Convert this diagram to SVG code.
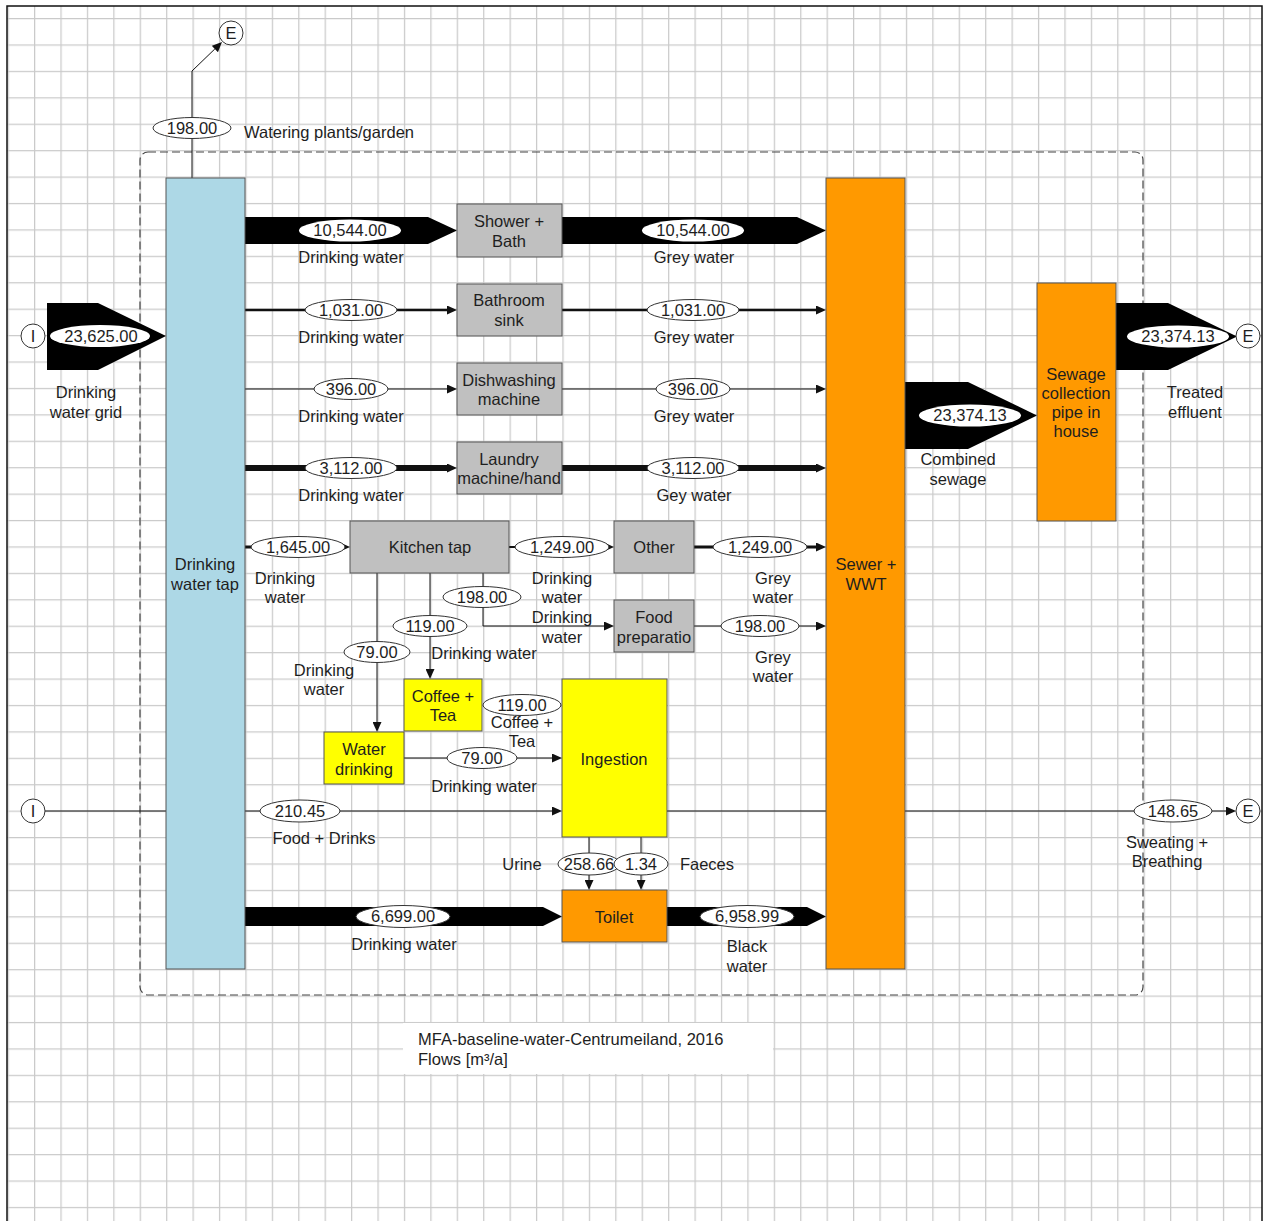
<svg xmlns="http://www.w3.org/2000/svg" width="1265" height="1221" viewBox="0 0 1265 1221">
<style>
.t{font-family:"Liberation Sans",Arial,sans-serif;font-size:16.5px;fill:#1e1e1e;text-anchor:middle}
.s{text-anchor:start}
.ln{fill:none;stroke:#111;marker-end:url(#ah)}
.band{fill:#000}
.lbl{fill:#fff;stroke:#333;stroke-width:1}
.gray{fill:#c0c0c0;stroke:#555;stroke-width:1}
.yel{fill:#ffff00;stroke:#555;stroke-width:1}
.org{fill:#ff9900;stroke:#555;stroke-width:1}
.blu{fill:#add8e6;stroke:#555;stroke-width:1}
.io{fill:#fff;stroke:#333;stroke-width:1}
</style>
<defs>
<pattern id="grid" patternUnits="userSpaceOnUse" x="34" y="18" width="26.42" height="26.42">
<path d="M0.5 0V26.42M0 0.5H26.42" stroke="#cacaca" stroke-width="1.5" fill="none"/>
</pattern>
<marker id="ah" markerUnits="userSpaceOnUse" markerWidth="10" markerHeight="9" refX="0" refY="4.5" orient="auto">
<path d="M0 0L10 4.5L0 9z" fill="#111"/>
</marker>
</defs>
<rect x="0" y="0" width="1265" height="1221" fill="#fff"/>
<rect x="7" y="6" width="1255" height="1220" fill="url(#grid)" stroke="#111" stroke-width="1.5"/>
<rect x="140" y="152" width="1003" height="843" rx="8" fill="none" stroke="#444" stroke-width="1.2" stroke-dasharray="8,4"/>
<g id="caption">
<rect x="403" y="1023" width="370" height="51" fill="#fff"/>
<text class="t s" x="418" y="1045">MFA-baseline-water-Centrumeiland, 2016</text>
<text class="t s" x="418" y="1065">Flows [m³/a]</text>
</g>
<g id="connectors">
<path class="ln" d="M192 178V71L214.8 49" stroke-width="1"/>
<polygon class="band" points="47,303 98,303 166,336 98,370 47,370"/>
<polygon class="band" points="245,217 428,217 457,230.5 428,244 245,244"/>
<polygon class="band" points="562,217 797,217 826,230.5 797,244 562,244"/>
<polygon class="band" points="905,382 968,382 1037,415.5 968,449 905,449"/>
<polygon class="band" points="1116,303 1168,303 1237,336.5 1168,370 1116,370"/>
<polygon class="band" points="245,907 543,907 562,916.5 543,926 245,926"/>
<polygon class="band" points="667,907 807,907 826,916.5 807,926 667,926"/>
<path class="ln" d="M245 310H447" stroke-width="2.5"/>
<path class="ln" d="M562 310H816" stroke-width="2.5"/>
<path class="ln" d="M245 389H447" stroke-width="1"/>
<path class="ln" d="M562 389H816" stroke-width="1"/>
<path class="ln" d="M245 468H447" stroke-width="6"/>
<path class="ln" d="M562 468H816" stroke-width="6"/>
<path class="ln" d="M245 547H340" stroke-width="3"/>
<path class="ln" d="M509 547H604" stroke-width="2"/>
<path class="ln" d="M694 547H816" stroke-width="3"/>
<path class="ln" d="M483 573V626H604" stroke-width="1"/>
<path class="ln" d="M694 626H816" stroke-width="1"/>
<path class="ln" d="M430 573V669" stroke-width="1"/>
<path class="ln" d="M377 573V722" stroke-width="1"/>
<path class="ln" d="M404 758H552" stroke-width="1"/>
<path class="ln" d="M45 811H552" stroke-width="1"/>
<path class="ln" d="M667 811H1226" stroke-width="1"/>
<path class="ln" d="M589 837V880" stroke-width="1"/>
<path class="ln" d="M641 837V880" stroke-width="1"/>
</g>
<g id="n-tap"><rect class="blu" x="166" y="178" width="79" height="791"/><text class="t" x="205" y="570">Drinking</text><text class="t" x="205" y="590">water tap</text></g>
<g id="n-shower"><rect class="gray" x="457" y="204" width="105" height="53"/><text class="t" x="509" y="227">Shower +</text><text class="t" x="509" y="247">Bath</text></g>
<g id="n-sink"><rect class="gray" x="457" y="284" width="105" height="52"/><text class="t" x="509" y="306">Bathroom</text><text class="t" x="509" y="326">sink</text></g>
<g id="n-dish"><rect class="gray" x="457" y="363" width="105" height="52"/><text class="t" x="509" y="386">Dishwashing</text><text class="t" x="509" y="405">machine</text></g>
<g id="n-laundry"><rect class="gray" x="457" y="442" width="105" height="52"/><text class="t" x="509" y="465">Laundry</text><text class="t" x="509" y="484">machine/hand</text></g>
<g id="n-kitchen"><rect class="gray" x="350" y="521" width="159" height="52"/><text class="t" x="430" y="553">Kitchen tap</text></g>
<g id="n-other"><rect class="gray" x="614" y="521" width="80" height="52"/><text class="t" x="654" y="553">Other</text></g>
<g id="n-food"><rect class="gray" x="614" y="600" width="80" height="52"/><text class="t" x="654" y="623">Food</text><text class="t" x="654" y="643">preparatio</text></g>
<g id="n-coffee"><rect class="yel" x="404" y="679" width="78" height="52"/><text class="t" x="443" y="702">Coffee +</text><text class="t" x="443" y="721">Tea</text></g>
<g id="n-water"><rect class="yel" x="324" y="732" width="80" height="52"/><text class="t" x="364" y="755">Water</text><text class="t" x="364" y="775">drinking</text></g>
<g id="n-ingestion"><rect class="yel" x="562" y="679" width="105" height="158"/><text class="t" x="614" y="765">Ingestion</text></g>
<g id="n-toilet"><rect class="org" x="562" y="890" width="105" height="52"/><text class="t" x="614" y="923">Toilet</text></g>
<g id="n-sewer"><rect class="org" x="826" y="178" width="79" height="791"/><text class="t" x="866" y="570">Sewer +</text><text class="t" x="866" y="590">WWT</text></g>
<g id="n-pipe"><rect class="org" x="1037" y="283" width="79" height="238"/><text class="t" x="1076" y="380">Sewage</text><text class="t" x="1076" y="399">collection</text><text class="t" x="1076" y="418">pipe in</text><text class="t" x="1076" y="437">house</text></g>
<g id="n-e1"><circle class="io" cx="231" cy="33" r="12"/><text class="t" x="231" y="39">E</text></g>
<g id="n-i1"><circle class="io" cx="33" cy="336" r="12"/><text class="t" x="33" y="342">I</text></g>
<g id="n-e2"><circle class="io" cx="1248" cy="336" r="12"/><text class="t" x="1248" y="342">E</text></g>
<g id="n-i2"><circle class="io" cx="33" cy="811" r="12"/><text class="t" x="33" y="817">I</text></g>
<g id="n-e3"><circle class="io" cx="1248" cy="811" r="12"/><text class="t" x="1248" y="817">E</text></g>
<g id="labels">
<ellipse class="lbl" cx="192" cy="128" rx="39" ry="10.5"/><text class="t" x="192" y="134">198.00</text>
<text class="t s" x="244" y="138">Watering plants/garden</text>
<ellipse cx="100" cy="336" rx="50" ry="11" fill="#fff"/><text class="t" x="101" y="342">23,625.00</text>
<text class="t" x="86" y="398">Drinking</text><text class="t" x="86" y="418">water grid</text>
<ellipse cx="350" cy="230.5" rx="51" ry="11" fill="#fff"/><text class="t" x="350" y="236">10,544.00</text>
<text class="t" x="351" y="263">Drinking water</text>
<ellipse cx="693" cy="230.5" rx="51" ry="11" fill="#fff"/><text class="t" x="693" y="236">10,544.00</text>
<text class="t" x="694" y="263">Grey water</text>
<ellipse class="lbl" cx="351" cy="310" rx="46" ry="10.5"/><text class="t" x="351" y="316">1,031.00</text>
<text class="t" x="351" y="343">Drinking water</text>
<ellipse class="lbl" cx="693" cy="310" rx="46" ry="10.5"/><text class="t" x="693" y="316">1,031.00</text>
<text class="t" x="694" y="343">Grey water</text>
<ellipse class="lbl" cx="351" cy="389" rx="37" ry="10.5"/><text class="t" x="351" y="395">396.00</text>
<text class="t" x="351" y="422">Drinking water</text>
<ellipse class="lbl" cx="693" cy="389" rx="37" ry="10.5"/><text class="t" x="693" y="395">396.00</text>
<text class="t" x="694" y="422">Grey water</text>
<ellipse class="lbl" cx="351" cy="468" rx="46" ry="10.5"/><text class="t" x="351" y="474">3,112.00</text>
<text class="t" x="351" y="501">Drinking water</text>
<ellipse class="lbl" cx="693" cy="468" rx="46" ry="10.5"/><text class="t" x="693" y="474">3,112.00</text>
<text class="t" x="694" y="501">Gey water</text>
<ellipse class="lbl" cx="298" cy="547" rx="47" ry="10.5"/><text class="t" x="298" y="553">1,645.00</text>
<text class="t" x="285" y="584">Drinking</text><text class="t" x="285" y="603">water</text>
<ellipse class="lbl" cx="562" cy="547" rx="47" ry="10.5"/><text class="t" x="562" y="553">1,249.00</text>
<text class="t" x="562" y="584">Drinking</text><text class="t" x="562" y="603">water</text>
<ellipse class="lbl" cx="760" cy="547" rx="47" ry="10.5"/><text class="t" x="760" y="553">1,249.00</text>
<text class="t" x="773" y="584">Grey</text><text class="t" x="773" y="603">water</text>
<ellipse class="lbl" cx="482" cy="597" rx="39" ry="10.5"/><text class="t" x="482" y="603">198.00</text>
<text class="t" x="562" y="623">Drinking</text><text class="t" x="562" y="643">water</text>
<ellipse class="lbl" cx="760" cy="626" rx="39" ry="10.5"/><text class="t" x="760" y="632">198.00</text>
<text class="t" x="773" y="663">Grey</text><text class="t" x="773" y="682">water</text>
<ellipse class="lbl" cx="430" cy="626" rx="37" ry="10.5"/><text class="t" x="430" y="632">119.00</text>
<text class="t" x="484" y="659">Drinking water</text>
<ellipse class="lbl" cx="377" cy="652" rx="33" ry="10.5"/><text class="t" x="377" y="658">79.00</text>
<text class="t" x="324" y="676">Drinking</text><text class="t" x="324" y="695">water</text>
<ellipse class="lbl" cx="522" cy="705" rx="39" ry="10.5"/><text class="t" x="522" y="711">119.00</text>
<text class="t" x="522" y="728">Coffee +</text><text class="t" x="522" y="747">Tea</text>
<ellipse class="lbl" cx="482" cy="758" rx="35" ry="10.5"/><text class="t" x="482" y="764">79.00</text>
<text class="t" x="484" y="792">Drinking water</text>
<ellipse class="lbl" cx="300" cy="811" rx="40" ry="11"/><text class="t" x="300" y="817">210.45</text>
<text class="t" x="324" y="844">Food + Drinks</text>
<ellipse class="lbl" cx="1173" cy="811" rx="39" ry="11"/><text class="t" x="1173" y="817">148.65</text>
<text class="t" x="1167" y="848">Sweating +</text><text class="t" x="1167" y="867">Breathing</text>
<text class="t" x="522" y="870">Urine</text>
<ellipse class="lbl" cx="589" cy="864" rx="31" ry="11"/><text class="t" x="589" y="870">258.66</text>
<ellipse class="lbl" cx="641" cy="864" rx="27" ry="11"/><text class="t" x="641" y="870">1.34</text>
<text class="t" x="707" y="870">Faeces</text>
<ellipse class="lbl" cx="403" cy="916.5" rx="47" ry="11"/><text class="t" x="403" y="922">6,699.00</text>
<text class="t" x="404" y="950">Drinking water</text>
<ellipse class="lbl" cx="747" cy="916.5" rx="47" ry="11"/><text class="t" x="747" y="922">6,958.99</text>
<text class="t" x="747" y="952">Black</text><text class="t" x="747" y="972">water</text>
<ellipse cx="970" cy="415.5" rx="51" ry="11" fill="#fff"/><text class="t" x="970" y="421">23,374.13</text>
<text class="t" x="958" y="465">Combined</text><text class="t" x="958" y="485">sewage</text>
<ellipse cx="1178" cy="336.5" rx="51" ry="11" fill="#fff"/><text class="t" x="1178" y="342">23,374.13</text>
<text class="t" x="1195" y="398">Treated</text><text class="t" x="1195" y="418">effluent</text>
</g>
</svg>
